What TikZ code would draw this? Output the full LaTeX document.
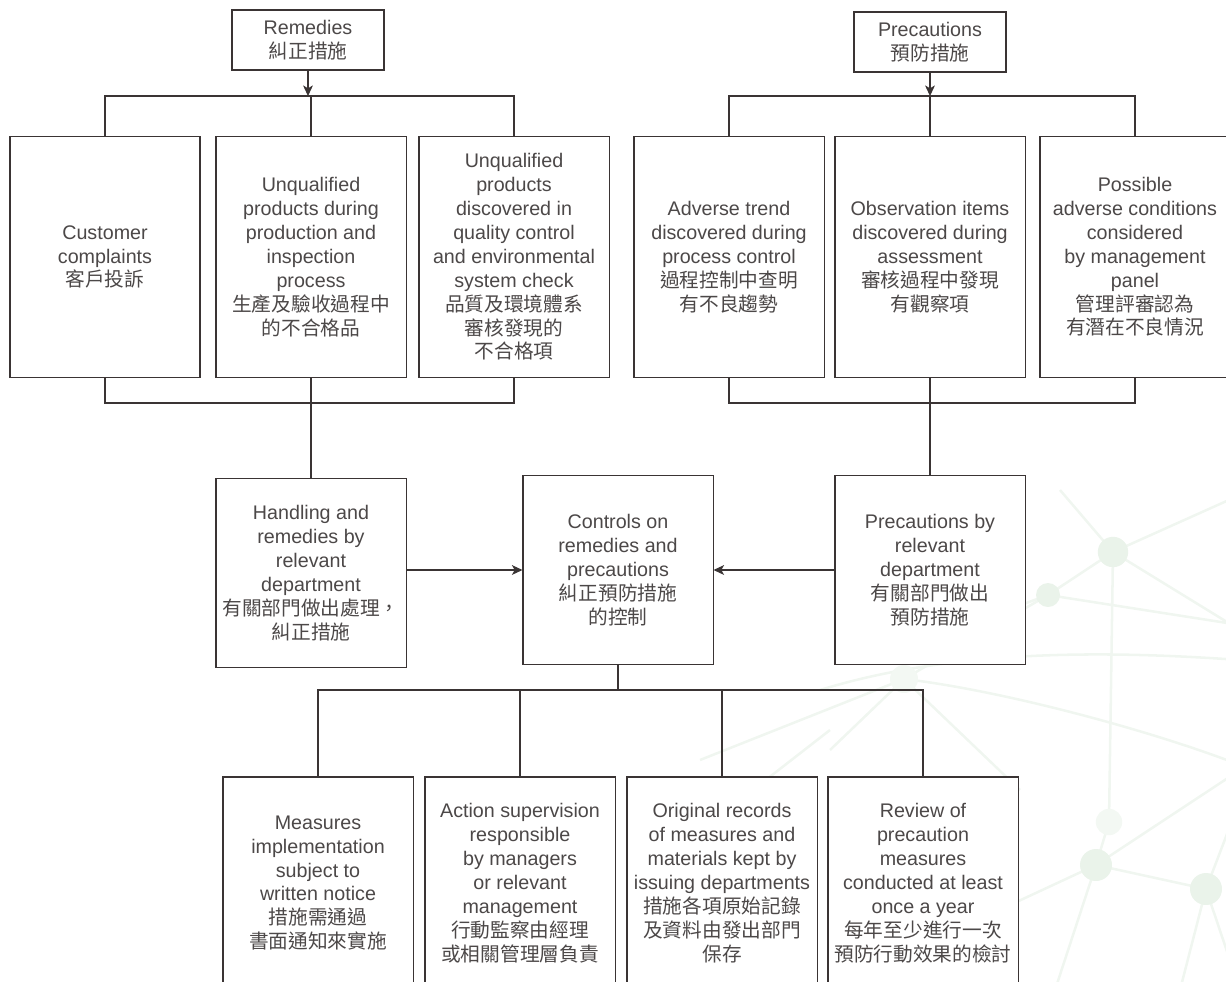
\documentclass[tikz,border=0pt]{standalone}
\usepackage{fontspec}
\setmainfont{Liberation Sans}
\newfontfamily\cjk{Noto Sans CJK TC}
\usetikzlibrary{arrows.meta}
\definecolor{linegray}{RGB}{58,52,52}
\definecolor{textgray}{RGB}{76,72,72}
\definecolor{netline}{RGB}{240,246,240}
\definecolor{netfill}{RGB}{234,243,234}

\begin{document}
\begin{tikzpicture}[x=0.025cm, y=-0.025cm,
    box/.style={draw=linegray, line width=0.75pt, fill=white, align=center, text=textgray,
                inner sep=0pt, font=\fontsize{14}{17}\selectfont},
    headbox/.style={box, minimum width=3.8cm, minimum height=1.5cm},
    tallbox/.style={box, minimum width=4.75cm, minimum height=6.03cm},
    midbox/.style={box, minimum width=4.75cm, minimum height=4.73cm},
    footbox/.style={box, minimum width=4.75cm, minimum height=5.3cm},
    link/.style={draw=linegray, line width=0.75pt},
    arrowline/.style={link, -{Stealth[length=7.5pt, width=7pt, inset=2pt]}},
    net/.style={draw=netline, line width=1.8pt}]
    \useasboundingbox (0,0) rectangle (1226,982);
    \clip (0,0) rectangle (1226,982);

    % faint network in the background
    \draw[net] (1113,552) -- (1048,595) -- (1240,625);
    \draw[net] (1113,552) -- (1240,495);
    \draw[net] (1113,552) -- (1240,630);
    \draw[net] (1113,552) -- (1060,490);
    \draw[net] (1113,552) -- (1109,822) -- (1096,865);
    \draw[net] (1048,595) -- (980,620);
    \draw[net] (1048,595) -- (904,679) -- (830,750);
    \draw[net] (904,679) -- (1020,790);
    \draw[net] (904,679) -- (700,760);
    \draw[net] (740,800) -- (830,730);
    \draw[net] (820,690) .. controls (950,650) and (1100,650) .. (1240,660);
    \draw[net] (904,679) .. controls (1000,690) and (1150,730) .. (1240,765);
    \draw[net] (1010,905) -- (1096,865) -- (1206,889) -- (1240,800);
    \draw[net] (1096,865) -- (1240,770);
    \draw[net] (1096,865) -- (1055,990);
    \draw[net] (1206,889) -- (1180,990);
    \draw[net] (1206,889) -- (1240,990);
    \fill[netfill] (1113,552) circle (0.38cm);
    \fill[netfill] (1048,595) circle (0.3cm);
    \fill[netfill!60!white] (904,679) circle (0.35cm);
    \fill[netfill!60!white] (1109,822) circle (0.33cm);
    \fill[netfill] (1096,865) circle (0.4cm);
    \fill[netfill] (1206,889) circle (0.4cm);

    % remedies side
    \node[headbox] (rem) at (308,40) {Remedies\\{\cjk 糾正措施}};
    \coordinate (remBar) at (308,96);
    \coordinate (remJoin) at (311,403);
    \node[tallbox] (cust) at (105,257) {Customer\\complaints\\{\cjk 客戶投訴}};
    \node[tallbox] (unq) at (311,257) {Unqualified\\products during\\production and\\inspection\\process\\{\cjk 生產及驗收過程中}\\{\cjk 的不合格品}};
    \node[tallbox] (qc) at (514,257) {Unqualified\\products\\discovered in\\quality control\\and environmental\\system check\\{\cjk 品質及環境體系}\\{\cjk 審核發現的}\\{\cjk 不合格項}};
    \node[midbox] (hand) at (311,573) {Handling and\\remedies by\\relevant\\department\\{\cjk 有關部門做出處理，}\\{\cjk 糾正措施}};

    % precautions side
    \node[headbox] (pre) at (930,42) {Precautions\\{\cjk 預防措施}};
    \coordinate (preBar) at (930,96);
    \coordinate (preJoin) at (930,403);
    \node[tallbox] (adv) at (729,257) {Adverse trend\\discovered during\\process control\\{\cjk 過程控制中查明}\\{\cjk 有不良趨勢}};
    \node[tallbox] (obs) at (930,257) {Observation items\\discovered during\\assessment\\{\cjk 審核過程中發現}\\{\cjk 有觀察項}};
    \node[tallbox] (poss) at (1135,257) {Possible\\adverse conditions\\considered\\by management\\panel\\{\cjk 管理評審認為}\\{\cjk 有潛在不良情況}};
    \node[midbox] (pby) at (930,570) {Precautions by\\relevant\\department\\{\cjk 有關部門做出}\\{\cjk 預防措施}};

    % controls and follow-up
    \node[midbox] (ctrl) at (618,570) {Controls on\\remedies and\\precautions\\{\cjk 糾正預防措施}\\{\cjk 的控制}};
    \coordinate (ctrlBar) at (618,690);
    \node[footbox] (meas) at (318,883) {Measures\\implementation\\subject to\\written notice\\{\cjk 措施需通過}\\{\cjk 書面通知來實施}};
    \node[footbox] (act) at (520,883) {Action supervision\\responsible\\by managers\\or relevant\\management\\{\cjk 行動監察由經理}\\{\cjk 或相關管理層負責}};
    \node[footbox] (orig) at (722,883) {Original records\\of measures and\\materials kept by\\issuing departments\\{\cjk 措施各項原始記錄}\\{\cjk 及資料由發出部門}\\{\cjk 保存}};
    \node[footbox] (rev) at (923,883) {Review of\\precaution\\measures\\conducted at least\\once a year\\{\cjk 每年至少進行一次}\\{\cjk 預防行動效果的檢討}};

    \draw[arrowline] (rem.south) -- (remBar);
    \draw[link] (cust.north) -- (cust.north |- remBar) -- (qc.north |- remBar) -- (qc.north);
    \draw[link] (unq.north) -- (unq.north |- remBar);
    \draw[link] (cust.south) -- (cust.south |- remJoin) -- (qc.south |- remJoin) -- (qc.south);
    \draw[link] (unq.south) -- (remJoin) -- (hand.north);

    \draw[arrowline] (pre.south) -- (preBar);
    \draw[link] (adv.north) -- (adv.north |- preBar) -- (poss.north |- preBar) -- (poss.north);
    \draw[link] (obs.north) -- (obs.north |- preBar);
    \draw[link] (adv.south) -- (adv.south |- preJoin) -- (poss.south |- preJoin) -- (poss.south);
    \draw[link] (obs.south) -- (pby.north);

    \draw[arrowline] (hand.east |- ctrl) -- (ctrl.west);
    \draw[arrowline] (pby.west) -- (ctrl.east);

    \draw[link] (ctrl.south) -- (ctrlBar);
    \draw[link] (meas.north) -- (meas.north |- ctrlBar) -- (rev.north |- ctrlBar) -- (rev.north);
    \foreach \b in {act,orig}
        \draw[link] (\b.north) -- (\b.north |- ctrlBar);
\end{tikzpicture}
\end{document}
